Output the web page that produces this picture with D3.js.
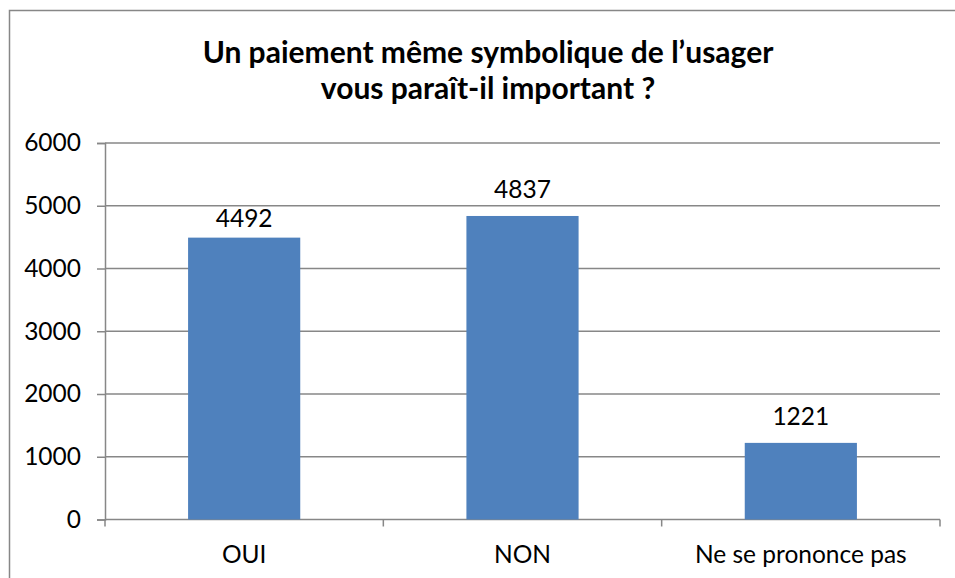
<!DOCTYPE html>
<html>
<head>
<meta charset="utf-8">
<script src="https://cdn.jsdelivr.net/npm/d3@7"></script>
<style>
  html, body { margin: 0; padding: 0; background: #fff; }
  svg { display: block; font-family: Lato, "Open Sans", sans-serif; }
</style>
</head>
<body>
<svg id="chart" width="955" height="578"></svg>
<script>
const categories = ["OUI", "NON", "Ne se prononce pas"];
const values = [4492, 4837, 1221];
const yTicks = [0, 1000, 2000, 3000, 4000, 5000, 6000];
const titleLines = ["Un paiement même symbolique de l\u2019usager", "vous paraît-il important ?"];

(function () {
const svg = d3.select("#chart");

// outer frame
svg.append("rect")
  .attr("x", 9.5).attr("y", 10.5)
  .attr("width", 960).attr("height", 600)
  .attr("fill", "#fff").attr("stroke", "#878787").attr("stroke-width", 1.5);

const pLeft = 105, pRight = 940, pTop = 143, pBottom = 519.5;

const x = d3.scaleBand().domain(categories).range([pLeft, pRight]).padding(0);
const y = d3.scaleLinear().domain([0, 6000]).range([pBottom, pTop]);

// gridlines
svg.append("g")
  .selectAll("line")
  .data(yTicks.filter(d => d > 0))
  .join("line")
  .attr("x1", pLeft).attr("x2", pRight)
  .attr("y1", d => y(d)).attr("y2", d => y(d))
  .attr("stroke", "#878787").attr("stroke-width", 1.5);

// y axis
const yAxis = d3.axisLeft(y).tickValues(yTicks).tickSize(8).tickPadding(16).tickFormat(d3.format("d"));
const gy = svg.append("g").attr("transform", `translate(${pLeft},0)`).call(yAxis);
gy.select(".domain").attr("stroke", "#878787").attr("stroke-width", 1.5);
gy.selectAll(".tick line").attr("stroke", "#878787").attr("stroke-width", 1.5);
gy.selectAll(".tick text").attr("font-size", 24.5).attr("fill", "#000")
  .attr("font-family", "Lato, sans-serif");

// x axis baseline and ticks at band boundaries
const gx = svg.append("g");
gx.append("line").attr("x1", pLeft).attr("x2", pRight)
  .attr("y1", pBottom).attr("y2", pBottom)
  .attr("stroke", "#878787").attr("stroke-width", 1.5);
const bounds = [pLeft].concat(categories.map(c => x(c) + x.bandwidth()));
gx.selectAll("line.tk").data(bounds).join("line").attr("class", "tk")
  .attr("x1", d => d).attr("x2", d => d)
  .attr("y1", pBottom).attr("y2", pBottom + 7)
  .attr("stroke", "#878787").attr("stroke-width", 1.5);
gx.selectAll("text").data(categories).join("text")
  .attr("x", d => x(d) + x.bandwidth() / 2)
  .attr("y", 563)
  .attr("text-anchor", "middle")
  .attr("font-size", 24.5)
  .attr("fill", "#000")
  .text(d => d);

// bars
const barW = x.bandwidth() * 0.403;
svg.append("g").selectAll("rect").data(categories).join("rect")
  .attr("x", d => x(d) + (x.bandwidth() - barW) / 2)
  .attr("y", (d, i) => y(values[i]))
  .attr("width", barW)
  .attr("height", (d, i) => pBottom - y(values[i]))
  .attr("fill", "#4f81bd");

// value labels (label gap above each bar as in the original layout)
const labelGap = [11, 18, 18];
svg.append("g").selectAll("text").data(categories).join("text")
  .attr("x", d => x(d) + x.bandwidth() / 2)
  .attr("y", (d, i) => y(values[i]) - labelGap[i])
  .attr("text-anchor", "middle")
  .attr("font-size", 24.5)
  .attr("fill", "#000")
  .text((d, i) => values[i]);

// title
svg.append("g").selectAll("text").data(titleLines).join("text")
  .attr("x", 488)
  .attr("y", (d, i) => 63 + i * 36)
  .attr("text-anchor", "middle")
  .attr("font-size", 30)
  .attr("font-weight", "bold")
  .attr("fill", "#000")
  .text(d => d);
})();
</script>
</body>
</html>
